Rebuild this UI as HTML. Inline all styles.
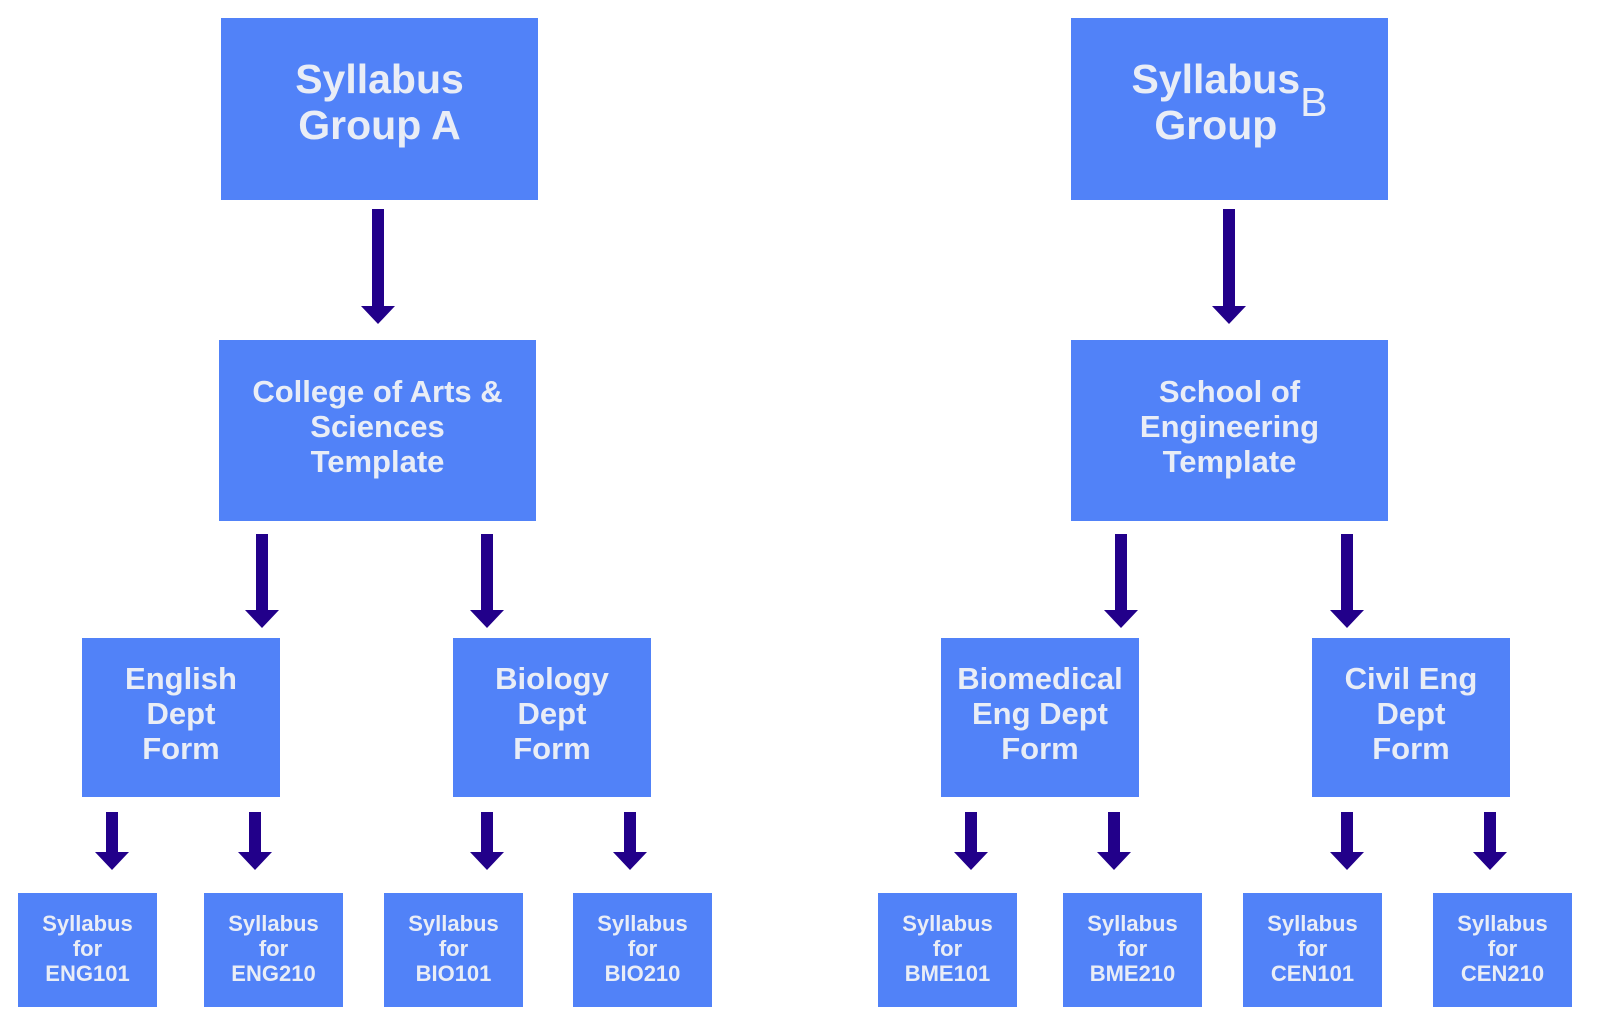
<!DOCTYPE html>
<html><head><meta charset="utf-8"><style>
html,body{margin:0;padding:0;background:#fff;width:1600px;height:1034px;overflow:hidden;position:relative;font-family:"Liberation Sans",Arial,sans-serif}
.b{position:absolute;background:#5182f8;color:#e9edf6;font-weight:bold;display:flex;align-items:center;justify-content:center;text-align:center;box-sizing:border-box}
.t{font-size:41px;line-height:46px;padding-bottom:14px}
.m{font-size:31px;line-height:35px;padding-bottom:8px}
.s{font-size:22px;line-height:25px;padding-bottom:4px}
svg{position:absolute;left:0;top:0}
</style></head><body>
<div class="b t" style="left:221px;top:18px;width:317px;height:182px">Syllabus<br>Group A</div>
<div class="b t" style="left:1071px;top:18px;width:317px;height:182px">Syllabus<br>Group <span style="font-weight:normal">B</span></div>
<div class="b m" style="left:219px;top:340px;width:317px;height:181px">College of Arts &amp;<br>Sciences<br>Template</div>
<div class="b m" style="left:1071px;top:340px;width:317px;height:181px">School of<br>Engineering<br>Template</div>
<div class="b m" style="left:82px;top:638px;width:198px;height:159px">English<br>Dept<br>Form</div>
<div class="b m" style="left:453px;top:638px;width:198px;height:159px">Biology<br>Dept<br>Form</div>
<div class="b m" style="left:941px;top:638px;width:198px;height:159px">Biomedical<br>Eng Dept<br>Form</div>
<div class="b m" style="left:1312px;top:638px;width:198px;height:159px">Civil Eng<br>Dept<br>Form</div>
<div class="b s" style="left:18px;top:893px;width:139px;height:114px">Syllabus<br>for<br>ENG101</div>
<div class="b s" style="left:204px;top:893px;width:139px;height:114px">Syllabus<br>for<br>ENG210</div>
<div class="b s" style="left:384px;top:893px;width:139px;height:114px">Syllabus<br>for<br>BIO101</div>
<div class="b s" style="left:573px;top:893px;width:139px;height:114px">Syllabus<br>for<br>BIO210</div>
<div class="b s" style="left:878px;top:893px;width:139px;height:114px">Syllabus<br>for<br>BME101</div>
<div class="b s" style="left:1063px;top:893px;width:139px;height:114px">Syllabus<br>for<br>BME210</div>
<div class="b s" style="left:1243px;top:893px;width:139px;height:114px">Syllabus<br>for<br>CEN101</div>
<div class="b s" style="left:1433px;top:893px;width:139px;height:114px">Syllabus<br>for<br>CEN210</div>
<svg width="1600" height="1034" fill="#22008a">
<defs><g id="a"></g></defs>
<!-- arrow: x center, y1 top, y2 tip -->
<path d="M372 209h12v97h11l-17 18-17-18h11z"/>
<path d="M1223 209h12v97h11l-17 18-17-18h11z"/>
<path d="M256 534h12v76h11l-17 18-17-18h11z"/>
<path d="M481 534h12v76h11l-17 18-17-18h11z"/>
<path d="M1115 534h12v76h11l-17 18-17-18h11z"/>
<path d="M1341 534h12v76h11l-17 18-17-18h11z"/>
<path d="M106 812h12v40h11l-17 18-17-18h11z"/>
<path d="M249 812h12v40h11l-17 18-17-18h11z"/>
<path d="M481 812h12v40h11l-17 18-17-18h11z"/>
<path d="M624 812h12v40h11l-17 18-17-18h11z"/>
<path d="M965 812h12v40h11l-17 18-17-18h11z"/>
<path d="M1108 812h12v40h11l-17 18-17-18h11z"/>
<path d="M1341 812h12v40h11l-17 18-17-18h11z"/>
<path d="M1484 812h12v40h11l-17 18-17-18h11z"/>
</svg>
</body></html>
